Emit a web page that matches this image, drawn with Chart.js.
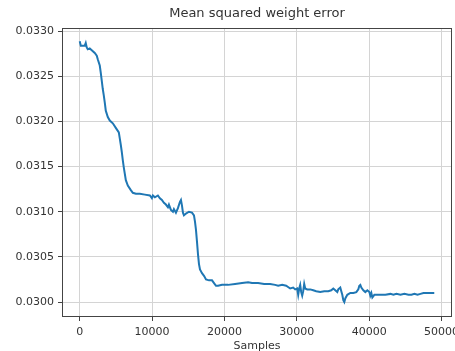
<!DOCTYPE html>
<html>
<head>
<meta charset="utf-8">
<script src="https://cdn.jsdelivr.net/npm/chart.js@4.4.1/dist/chart.umd.min.js"></script>
<style>
  html, body { margin: 0; padding: 0; background: #fff; }
  #wrap { width: 455px; height: 351px; }
</style>
</head>
<body>
<div id="wrap"><canvas id="mseChart"></canvas></div>
<script>
// Samples (x)
const samples = [
  0, 150, 277, 693, 831, 970, 1108, 1385, 1662, 2078, 2355, 2493, 2770, 2909, 3047, 3186,
  3324, 3463, 3601, 3878, 4155, 4571, 4986, 5402, 5540, 5679, 5817, 5956, 6094, 6233, 6371,
  6648, 7064, 7341, 7756, 8310, 9003, 9695, 9972, 10111, 10388, 10803, 11080, 11357, 11634,
  11911, 12188, 12327, 12604, 12881, 13019, 13296, 13573, 13850, 13989, 14127, 14266, 14404,
  14681, 15097, 15512, 15789, 15928, 16066, 16205, 16343, 16482, 16620, 16898, 17175, 17452,
  17867, 18283, 18560, 18837, 19114, 19668, 20499, 21468, 22438, 23269, 23823, 24654, 25485,
  26316, 27008, 27424, 27978, 28532, 29086, 29501, 29778, 30055, 30194, 30332, 30471, 30609,
  30748, 30886, 31025, 31163, 31440, 31856, 32271, 32687, 33241, 33795, 34349, 34765, 35042,
  35319, 35596, 35734, 36011, 36150, 36288, 36427, 36565, 36704, 36981, 37396, 37812, 38227,
  38504, 38643, 38781, 38920, 39197, 39474, 39751, 40028, 40166, 40305, 40443, 40720, 41136,
  41551, 42244, 42936, 43352, 43767, 44321, 44875, 45429, 45845, 46260, 46676, 47091, 47507,
  48061, 48476, 49000
];

// Mean squared weight error (y)
const mse = [
  0.03289, 0.03284, 0.03284, 0.03284, 0.03287, 0.03282, 0.03280, 0.03281, 0.03279, 0.03276, 0.03273, 0.03269, 0.03262, 0.03254, 0.03245, 0.03236,
  0.03229, 0.03221, 0.03212, 0.03205, 0.03201, 0.03198, 0.03193, 0.03188, 0.03181, 0.03174, 0.03166, 0.03157, 0.03149, 0.03142, 0.03135,
  0.03129, 0.03124, 0.03121, 0.03120, 0.03120, 0.03119, 0.03118, 0.03115, 0.03118, 0.03116, 0.03118, 0.03115, 0.03113, 0.03110,
  0.03108, 0.03105, 0.03108, 0.03102, 0.03100, 0.03103, 0.03099, 0.03104, 0.03111, 0.03113, 0.03107, 0.03099, 0.03096,
  0.03098, 0.03100, 0.03099, 0.03096, 0.03089, 0.03080, 0.03067, 0.03053, 0.03042, 0.03036, 0.03032, 0.03029, 0.03025,
  0.03024, 0.03024, 0.03021, 0.03018, 0.03018, 0.03019, 0.03019, 0.03020, 0.03021, 0.03022, 0.03021, 0.03021, 0.03020,
  0.03020, 0.03019, 0.03018, 0.03019, 0.03018, 0.03015, 0.03016, 0.03014, 0.03015, 0.03008, 0.03015, 0.03019, 0.03011,
  0.03007, 0.03012, 0.03020, 0.03015, 0.03014, 0.03014, 0.03013, 0.03012, 0.03011, 0.03012, 0.03012, 0.03013, 0.03015,
  0.03013, 0.03011, 0.03014, 0.03016, 0.03012, 0.03008, 0.03002, 0.03000, 0.03004, 0.03008, 0.03010, 0.03010, 0.03011,
  0.03014, 0.03018, 0.03019, 0.03016, 0.03013, 0.03011, 0.03013, 0.03011, 0.03007, 0.03010, 0.03005, 0.03008, 0.03008,
  0.03008, 0.03008, 0.03009, 0.03008, 0.03009, 0.03008, 0.03009, 0.03008, 0.03008, 0.03009, 0.03008, 0.03009, 0.03010,
  0.03010, 0.03010, 0.03010
];

// Tick labels
const xTicks = [0, 10000, 20000, 30000, 40000, 50000];
const yTicks = [0.0300, 0.0305, 0.0310, 0.0315, 0.0320, 0.0325, 0.0330];

const TITLE = 'Mean squared weight error';
const FONT = "'DejaVu Sans', sans-serif";
const TEXT_COLOR = '#333';
const GRID_COLOR = '#d4d4d4';
const SPINE_COLOR = '#444';

// Draws the full box around the plot area (matplotlib style spines)
// and the title centred over the plot area rather than the canvas
const frameBox = {
  id: 'frameBox',
  afterDatasetsDraw(chart) {
    const { ctx, chartArea } = chart;
    ctx.save();
    ctx.strokeStyle = SPINE_COLOR;
    ctx.lineWidth = 1;
    ctx.strokeRect(chartArea.left + 0.5, chartArea.top + 0.5,
      chartArea.right - chartArea.left - 1, chartArea.bottom - chartArea.top - 1);

    ctx.fillStyle = TEXT_COLOR;
    ctx.font = '13px ' + FONT;
    ctx.textAlign = 'center';
    ctx.textBaseline = 'middle';
    ctx.fillText(TITLE, (chartArea.left + chartArea.right) / 2, 14);
    ctx.restore();
  }
};

const points = samples.map((s, i) => ({ x: s, y: mse[i] }));

new Chart(document.getElementById('mseChart'), {
  type: 'line',
  data: {
    datasets: [{
      label: TITLE,
      data: points,
      borderColor: '#1f77b4',
      borderWidth: 2,
      pointRadius: 0,
      tension: 0,
      fill: false
    }]
  },
  options: {
    responsive: true,
    maintainAspectRatio: false,
    animation: false,
    layout: { padding: { left: 0, right: 3, top: 28, bottom: 0 } },
    plugins: {
      legend: { display: false },
      tooltip: { enabled: false },
      title: { display: false }
    },
    scales: {
      x: {
        type: 'linear',
        min: -2450,
        max: 51450,
        afterBuildTicks: scale => { scale.ticks = xTicks.map(v => ({ value: v })); },
        afterFit: scale => {
          scale.height = 34;
          scale.paddingLeft = 0;
          scale.paddingRight = 0;
        },
        ticks: {
          color: TEXT_COLOR,
          font: { family: FONT, size: 11 },
          padding: 5,
          maxRotation: 0,
          callback: v => String(v)
        },
        grid: { color: GRID_COLOR, tickColor: SPINE_COLOR, tickLength: 4 },
        border: { display: false },
        title: {
          display: true,
          text: 'Samples',
          color: TEXT_COLOR,
          font: { family: FONT, size: 11 },
          padding: { top: 0, bottom: -2 }
        }
      },
      y: {
        min: 0.029834,
        max: 0.033036,
        afterBuildTicks: scale => { scale.ticks = yTicks.map(v => ({ value: v })); },
        afterFit: scale => {
          scale.width = 62;
          scale.paddingTop = 0;
          scale.paddingBottom = 0;
        },
        ticks: {
          color: TEXT_COLOR,
          font: { family: FONT, size: 11 },
          padding: 4,
          callback: v => v.toFixed(4)
        },
        grid: { color: GRID_COLOR, tickColor: SPINE_COLOR, tickLength: 4 },
        border: { display: false }
      }
    }
  },
  plugins: [frameBox]
});
</script>
</body>
</html>
